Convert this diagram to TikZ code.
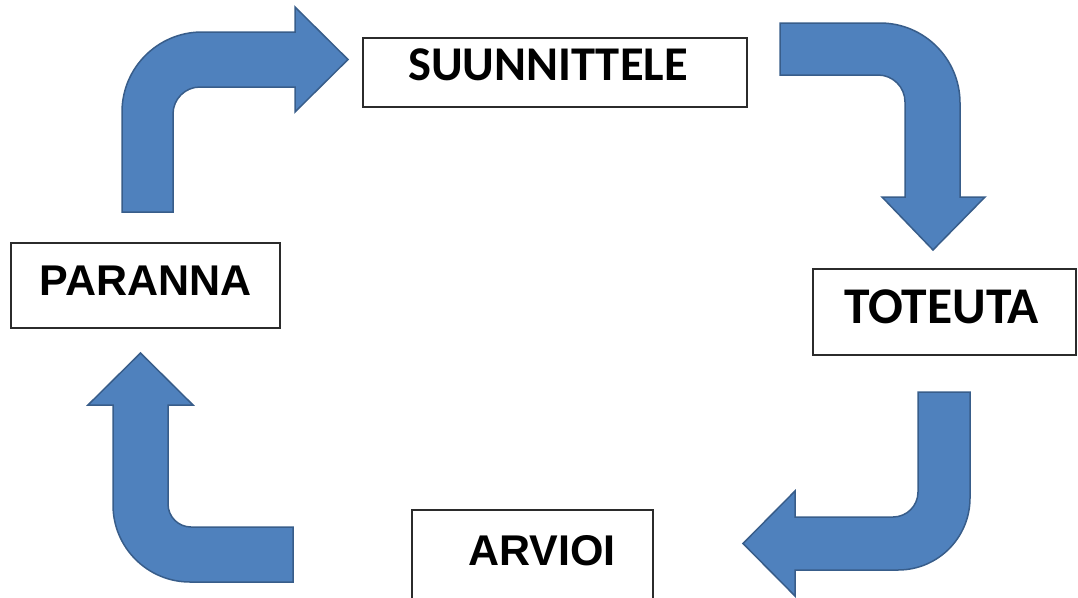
\documentclass[tikz,border=0pt]{standalone}
\usepackage{fontspec}
\newfontfamily\calibrifont{Carlito}
\newfontfamily\arialfont{Liberation Sans}
\definecolor{arrowfill}{HTML}{4F81BD}
\definecolor{arrowline}{HTML}{385D8A}
\definecolor{boxline}{HTML}{2B2B2B}
\tikzset{
  blockarrow/.style={fill=arrowfill, draw=arrowline, line width=1.5pt, line join=miter},
  stepbox/.style={draw=boxline, line width=1.8pt, fill=white, rectangle, inner sep=0pt},
  cal/.style={inner sep=0pt, anchor=base, text=black, font=\calibrifont\bfseries},
  ari/.style={inner sep=0pt, anchor=base, text=black, font=\arialfont\bfseries\fontsize{43}{46}\selectfont},
}
\begin{document}
\begin{tikzpicture}[x=1pt, y=-1pt]
\useasboundingbox (0,0) rectangle (1078,597);
\clip (0,0) rectangle (1078,597);

% boxes (corner to corner)
\node[stepbox, minimum width=384pt, minimum height=69pt] (plan) at (555,72.5) {};
\node[stepbox, minimum width=263pt, minimum height=86pt] (do) at (944.5,312) {};
\node[stepbox, minimum width=241pt, minimum height=90pt] (check) at (532.5,555) {};
\node[stepbox, minimum width=269pt, minimum height=85pt] (act) at (145.5,285.5) {};

% labels
\node[cal] (planlabel) at (548,80) {\fontsize{48.5}{52}\selectfont SUUNNITTELE};
\node[cal] (dolabel) at (941.5,323) {\fontsize{51.5}{55}\selectfont TOTEUTA};
\node[ari] (checklabel) at (542,565) {ARVIOI};
\node[ari] (actlabel) at (145.5,295) {PARANNA};

% act -> plan: up, then right
\draw[blockarrow] (122,212) -- (122,112)
  .. controls (122,67.8) and (157.8,32) .. (202,32)
  -- (295,32) -- (295,7) -- (348,59.5) -- (295,112) -- (295,87) -- (200,87)
  .. controls (185.1,87) and (173,99.1) .. (173,114)
  -- (173,212) -- cycle;

% plan -> do: right, then down
\draw[blockarrow] (780,23) -- (880,23)
  .. controls (924.2,23) and (960,58.8) .. (960,103)
  -- (960,197) -- (985,197) -- (933,250) -- (882,197) -- (905,197) -- (905,102)
  .. controls (905,87.1) and (892.9,75) .. (878,75)
  -- (780,75) -- cycle;

% do -> check: down, then left
\draw[blockarrow] (918,392) -- (970,392) -- (970,498)
  .. controls (970,537.8) and (937.8,570) .. (898,570)
  -- (795,570) -- (795,596) -- (743,543.5) -- (795,491) -- (795,517) -- (893,517)
  .. controls (906.8,517) and (918,505.8) .. (918,492)
  -- cycle;

% check -> act: left, then up
\draw[blockarrow] (293,527) -- (191,527)
  .. controls (178.3,527) and (168,516.7) .. (168,504)
  -- (168,405) -- (193,405) -- (140.5,353) -- (88,405) -- (113,405) -- (113,505)
  .. controls (113,547.5) and (147.5,582) .. (190,582)
  -- (293,582) -- cycle;
\end{tikzpicture}
\end{document}
